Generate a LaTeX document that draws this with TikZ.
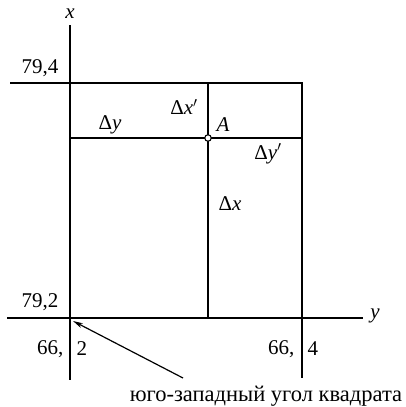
\documentclass[tikz,border=0pt]{standalone}
\usepackage{fontspec}
\setmainfont{Liberation Serif}
\usetikzlibrary{arrows.meta, positioning}

\begin{document}
\begin{tikzpicture}[x=1pt, y=-1pt, line width=1.2pt,
    lbl/.style={font=\fontsize{21}{24}\selectfont, inner sep=0pt},
    ilbl/.style={font=\fontsize{21}{24}\selectfont\itshape, inner sep=0pt},
    pnt/.style={circle, draw, fill=white, line width=1.1pt, inner sep=0pt, minimum size=6.5pt}]
        \useasboundingbox (0,0) rectangle (405,407);
        % corners of the square
        \coordinate (sw) at (70,318);
        \coordinate (ne) at (302,83);
        \coordinate (xtop) at (70,25);
        \coordinate (xbot) at (70,380);
        \coordinate (yleft) at (7,318);
        \coordinate (yright) at (363,318);
        \coordinate (nleft) at (10,83);
        \coordinate (sebot) at (302,378);
        \coordinate (wA) at (70,138);
        \coordinate (nA) at (208,83);
        \coordinate (sA) at (208,318);
        \coordinate (eA) at (302,138);
        \coordinate (tip) at (73,321);

        % axes and lines of the grid
        \draw (xtop) -- (xbot);
        \draw (yleft) -- (yright);
        \draw (nleft) -- (ne) -- (sebot);
        \draw (wA) -- (eA);
        \draw (nA) -- (sA);
        \node[pnt] (A) at (208,138) {};

        % labels
        \node[ilbl] (xlab) at (70,14) {x};
        \node[ilbl] (ylab) at (375,316) {y};
        \node[lbl] (n794) at (40,68) {79,4};
        \node[lbl] (n792) at (40,302) {79,2};
        \node[lbl, anchor=east] (n66a) at (64,349) {66,};
        \node[lbl, anchor=west] (n2) at (76,349) {2};
        \node[lbl, anchor=east] (n66b) at (295,349) {66,};
        \node[lbl, anchor=west] (n4) at (307,349) {4};
        \node[lbl] (dy) at (110,125) {Δ\textit{y}};
        \node[lbl] (dxp) at (184,107) {Δ\textit{x}$'$};
        \node[ilbl] (Alab) at (223,125) {A};
        \node[lbl] (dyp) at (268,154) {Δ\textit{y}$'$};
        \node[lbl] (dx) at (230,204) {Δ\textit{x}};
        \node[lbl, font=\fontsize{22.5}{26}\selectfont] (corner) at (266,396) {юго-западный угол квадрата};

        \draw[-{Stealth[length=10pt, width=5pt]}] (183,378) -- (tip);
    \end{tikzpicture}
\end{document}
